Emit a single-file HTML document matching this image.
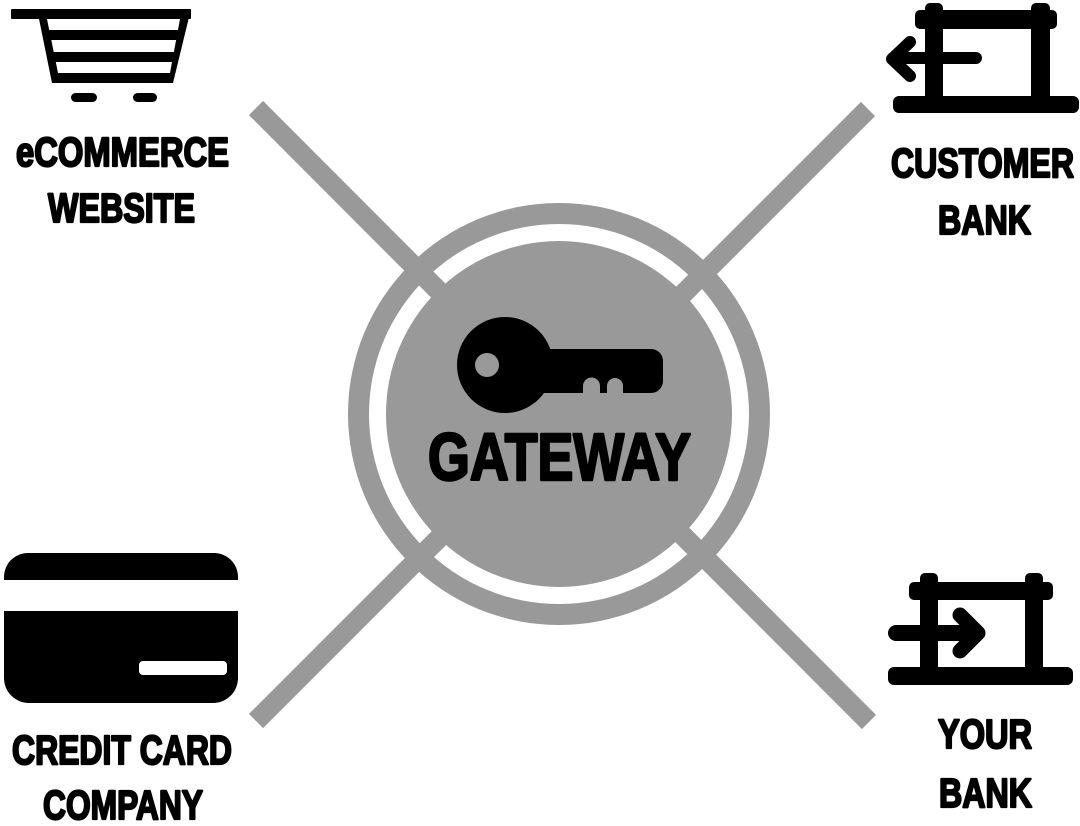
<!DOCTYPE html>
<html>
<head>
<meta charset="utf-8">
<style>
  html, body { margin: 0; padding: 0; background: #fff; }
  body { width: 1080px; height: 826px; overflow: hidden; }
  svg { display: block; }
  .t { font-family: "Liberation Sans Narrow", "Liberation Sans", "DejaVu Sans Condensed", sans-serif; font-weight: bold; fill: #000; stroke: #000; stroke-width: 2.2; stroke-linejoin: round; }
  .g { stroke-width: 2.6; }
</style>
</head>
<body>
<svg width="1080" height="826" viewBox="0 0 1080 826" xmlns="http://www.w3.org/2000/svg">
  <rect x="0" y="0" width="1080" height="826" fill="#fff"/>

  <!-- Central rings -->
  <circle cx="559" cy="414" r="211" fill="#999"/>
  <circle cx="559" cy="414" r="190" fill="#fff"/>
  <circle cx="559" cy="414" r="173" fill="#999"/>

  <!-- Diagonal connectors -->
  <line x1="256" y1="108" x2="869" y2="722" stroke="#999" stroke-width="20" stroke-linecap="butt"/>
  <line x1="868" y1="109" x2="256" y2="721" stroke="#999" stroke-width="20" stroke-linecap="butt"/>

  <!-- Key -->
  <circle cx="505" cy="365" r="48" fill="#000"/>
  <path d="M530 349 H651 A12 12 0 0 1 663 361 V381 A12 12 0 0 1 651 393 H530 Z" fill="#000"/>
  <circle cx="487" cy="365" r="12" fill="#999"/>
  <path d="M583 395 V386 A8.5 8.5 0 0 1 600 386 V395 Z" fill="#999"/>
  <path d="M607 395 V386 A8 8 0 0 1 623 386 V395 Z" fill="#999"/>

  <text class="t g" x="428" y="480" font-size="67" textLength="263" lengthAdjust="spacingAndGlyphs">GATEWAY</text>

  <!-- Shopping cart -->
  <rect x="11" y="9" width="180" height="10" rx="1" fill="#000"/>
  <polygon points="37,9 191,9 173,83 52,83" fill="#000"/>
  <polygon points="47,19 180,19 178,30 49.2,30" fill="#fff"/>
  <polygon points="51.3,40 176.1,40 173.9,52 53.7,52" fill="#fff"/>
  <polygon points="55.8,62 172,62 170,73 58,73" fill="#fff"/>
  <rect x="71" y="93" width="26" height="9" rx="4.5" fill="#000"/>
  <rect x="133" y="93" width="24" height="9" rx="4.5" fill="#000"/>

  <text class="t" x="16" y="166" font-size="41" textLength="213" lengthAdjust="spacingAndGlyphs">eCOMMERCE</text>
  <text class="t" x="48" y="222" font-size="41" textLength="147" lengthAdjust="spacingAndGlyphs">WEBSITE</text>

  <!-- Customer bank icon -->
  <rect x="925" y="3" width="18" height="100" rx="5" fill="#000"/>
  <rect x="1031" y="3" width="19" height="100" rx="5" fill="#000"/>
  <rect x="915" y="10" width="142" height="19" rx="5" fill="#000"/>
  <rect x="893" y="96" width="186" height="17" rx="6" fill="#000"/>
  <line x1="893" y1="58" x2="976" y2="58" stroke="#000" stroke-width="12" stroke-linecap="round"/>
  <polyline points="910,42 892,59 910,76" fill="none" stroke="#000" stroke-width="12" stroke-linecap="round" stroke-linejoin="round"/>

  <text class="t" x="891" y="177" font-size="41" textLength="183" lengthAdjust="spacingAndGlyphs">CUSTOMER</text>
  <text class="t" x="938" y="234" font-size="41" textLength="93" lengthAdjust="spacingAndGlyphs">BANK</text>

  <!-- Your bank icon -->
  <rect x="920" y="573" width="18" height="102" rx="5" fill="#000"/>
  <rect x="1025" y="573" width="18" height="102" rx="5" fill="#000"/>
  <rect x="909" y="582" width="144" height="18" rx="5" fill="#000"/>
  <rect x="888" y="667" width="185" height="18" rx="6" fill="#000"/>
  <line x1="896" y1="633" x2="976" y2="633" stroke="#000" stroke-width="16" stroke-linecap="round"/>
  <polyline points="960,615 978,633 960,651" fill="none" stroke="#000" stroke-width="15" stroke-linecap="round" stroke-linejoin="round"/>

  <text class="t" x="938" y="748" font-size="41" textLength="94" lengthAdjust="spacingAndGlyphs">YOUR</text>
  <text class="t" x="939" y="807" font-size="41" textLength="93" lengthAdjust="spacingAndGlyphs">BANK</text>

  <!-- Credit card icon -->
  <path d="M4 580 V577 A24 24 0 0 1 28 553 H214 A24 24 0 0 1 238 577 V580 Z" fill="#000"/>
  <path d="M4 611 H238 V678 A25 25 0 0 1 213 703 H29 A25 25 0 0 1 4 678 Z" fill="#000"/>
  <rect x="139" y="661" width="88" height="14" rx="4" fill="#fff"/>

  <text class="t" x="12" y="764" font-size="41" textLength="220" lengthAdjust="spacingAndGlyphs">CREDIT CARD</text>
  <text class="t" x="43" y="819" font-size="41" textLength="160" lengthAdjust="spacingAndGlyphs">COMPANY</text>
</svg>
</body>
</html>
